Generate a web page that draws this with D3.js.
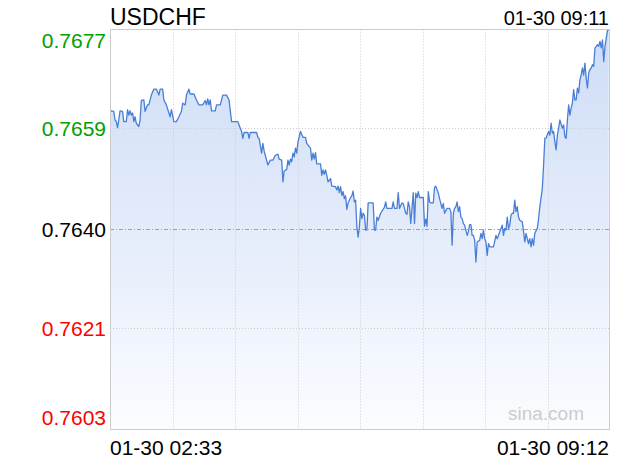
<!DOCTYPE html>
<html><head><meta charset="utf-8">
<script src="https://cdn.jsdelivr.net/npm/d3@7/dist/d3.min.js"></script>
<style>html,body{margin:0;padding:0;background:#fff;}svg{display:block;}</style>
</head><body>
<svg id="c" width="620" height="460"></svg>
<script>
const symbol = "USDCHF";
const lastTimeLabel = "01-30 09:11";
const xLabels = ["01-30 02:33", "01-30 09:12"];
const totalMinutes = 399;
const prevClose = 0.7640;
const yTicks = [0.76769, 0.76585, 0.76400, 0.76216, 0.76031];
const yTickLabels = ["0.7677", "0.7659", "0.7640", "0.7621", "0.7603"];
const yTickColors = ["#00a000", "#00a000", "#000000", "#ff0000", "#ff0000"];

// minute offsets from 02:33
const minutes = [0,1,3,4,5,6,7,8,10,11,13,14,15,16,17,18,19,20,21,23,24,25,27,28,30,31,33,35,37,39,40,42,43,45,47,48,49,51,53,55,57,58,60,61,63,64,67,69,71,74,76,77,78,79,80,81,84,85,88,90,93,95,97,102,103,105,106,107,110,111,112,117,118,119,121,122,123,126,128,130,132,134,135,137,138,139,141,142,143,144,145,146,147,148,149,150,151,152,154,156,157,159,160,161,162,163,164,165,168,169,170,171,172,173,174,176,177,180,181,182,183,184,185,186,187,188,189,190,192,193,194,195,196,197,198,199,200,201,202,203,204,205,206,210,211,212,213,214,216,217,219,220,221,225,226,227,229,230,231,233,234,235,236,237,238,239,240,242,243,244,245,246,247,250,251,252,253,254,255,256,258,259,260,262,263,265,266,267,269,271,272,273,274,275,276,277,278,279,280,281,282,283,285,286,287,288,289,290,291,292,293,295,296,297,298,299,300,301,302,303,306,307,308,309,310,312,313,314,315,316,317,318,319,320,321,322,323,324,325,326,327,329,330,331,332,333,334,335,336,337,338,339,341,342,343,345,346,347,348,350,351,352,353,354,355,356,357,358,359,361,362,363,364,365,366,367,368,369,370,371,372,373,374,375,376,377,378,379,380,381,382,383,384,385,386,387,388,389,390,391,392,393,394,395,396,397,398];
const prices = [0.76618,0.76619,0.76618,0.76602,0.76599,0.76588,0.76602,0.76619,0.76618,0.76599,0.76599,0.76621,0.76611,0.76619,0.76611,0.76615,0.76599,0.76608,0.76596,0.76590,0.76602,0.76638,0.76639,0.76618,0.76630,0.76630,0.76648,0.76659,0.76659,0.76648,0.76659,0.76659,0.76639,0.76630,0.76615,0.76608,0.76621,0.76599,0.76599,0.76608,0.76618,0.76633,0.76630,0.76648,0.76659,0.76650,0.76650,0.76639,0.76630,0.76630,0.76638,0.76630,0.76641,0.76630,0.76639,0.76619,0.76619,0.76630,0.76630,0.76648,0.76648,0.76639,0.76599,0.76599,0.76593,0.76581,0.76568,0.76579,0.76579,0.76568,0.76579,0.76579,0.76570,0.76568,0.76541,0.76559,0.76545,0.76519,0.76528,0.76528,0.76537,0.76539,0.76530,0.76528,0.76488,0.76508,0.76511,0.76528,0.76519,0.76530,0.76525,0.76541,0.76534,0.76550,0.76541,0.76562,0.76571,0.76581,0.76570,0.76570,0.76559,0.76553,0.76550,0.76528,0.76541,0.76530,0.76542,0.76521,0.76521,0.76500,0.76510,0.76502,0.76510,0.76500,0.76488,0.76494,0.76480,0.76479,0.76473,0.76480,0.76468,0.76479,0.76463,0.76470,0.76457,0.76462,0.76437,0.76449,0.76459,0.76462,0.76471,0.76451,0.76454,0.76405,0.76386,0.76405,0.76439,0.76420,0.76430,0.76426,0.76399,0.76399,0.76449,0.76449,0.76399,0.76399,0.76423,0.76417,0.76430,0.76434,0.76441,0.76451,0.76439,0.76439,0.76451,0.76439,0.76439,0.76468,0.76439,0.76449,0.76448,0.76439,0.76430,0.76428,0.76451,0.76442,0.76411,0.76468,0.76411,0.76467,0.76459,0.76470,0.76459,0.76459,0.76406,0.76419,0.76406,0.76470,0.76451,0.76449,0.76449,0.76478,0.76480,0.76467,0.76457,0.76439,0.76448,0.76430,0.76439,0.76439,0.76433,0.76371,0.76430,0.76439,0.76442,0.76451,0.76433,0.76442,0.76423,0.76420,0.76411,0.76408,0.76389,0.76396,0.76409,0.76409,0.76389,0.76389,0.76380,0.76340,0.76377,0.76380,0.76393,0.76383,0.76399,0.76383,0.76377,0.76352,0.76374,0.76368,0.76368,0.76378,0.76389,0.76383,0.76389,0.76402,0.76408,0.76389,0.76402,0.76399,0.76423,0.76402,0.76408,0.76426,0.76430,0.76430,0.76454,0.76433,0.76442,0.76423,0.76417,0.76414,0.76396,0.76377,0.76393,0.76383,0.76374,0.76383,0.76368,0.76383,0.76371,0.76393,0.76402,0.76420,0.76442,0.76476,0.76519,0.76568,0.76569,0.76581,0.76574,0.76596,0.76578,0.76581,0.76562,0.76547,0.76574,0.76587,0.76602,0.76587,0.76593,0.76571,0.76568,0.76602,0.76630,0.76611,0.76624,0.76633,0.76658,0.76639,0.76639,0.76661,0.76652,0.76676,0.76685,0.76698,0.76685,0.76707,0.76679,0.76661,0.76689,0.76695,0.76698,0.76704,0.76701,0.76735,0.76738,0.76741,0.76738,0.76747,0.76735,0.76750,0.76710,0.76738,0.76753,0.76767,0.76769];

const data = minutes.map((m, i) => ({ m, v: prices[i] }));

const svg = d3.select("#c");
const L = 110, R = 610, T = 29.5, B = 429.5;
const x = d3.scaleLinear().domain([0, totalMinutes]).range([L, R]);
const y = d3.scaleLinear().domain([yTicks[4], yTicks[0]]).range([B, T]);

const defs = svg.append("defs");
const grad = defs.append("linearGradient").attr("id", "g")
  .attr("gradientUnits", "userSpaceOnUse").attr("x1", 0).attr("x2", 0).attr("y1", T).attr("y2", B);
grad.append("stop").attr("offset", "0").attr("stop-color", "#cddcf6");
grad.append("stop").attr("offset", "1").attr("stop-color", "#fbfcff");

// area
svg.append("path").datum(data)
  .attr("fill", "url(#g)")
  .attr("d", d3.area().x(d => x(d.m)).y0(B).y1(d => y(d.v)));

// vertical grid
const vgrid = d3.range(1, 8).map(i => i * totalMinutes / 8);
svg.append("g").selectAll("line").data(vgrid).join("line")
  .attr("x1", d => Math.round(x(d)) + 0.5).attr("x2", d => Math.round(x(d)) + 0.5)
  .attr("y1", T).attr("y2", B)
  .attr("stroke", "#cccccc").attr("stroke-width", 1).attr("stroke-dasharray", "1,2");

// horizontal grid
svg.append("g").selectAll("line").data(yTicks.slice(1, 4)).join("line")
  .attr("x1", L).attr("x2", R)
  .attr("y1", d => Math.round(y(d)) - 0.5).attr("y2", d => Math.round(y(d)) - 0.5)
  .attr("stroke", d => d === prevClose ? "#a0a0a0" : "#cccccc")
  .attr("stroke-dasharray", d => d === prevClose ? "4,2,1,2" : "1,2");

// line
svg.append("path").datum(data)
  .attr("fill", "none").attr("stroke", "#4a7ed6").attr("stroke-width", 1.3)
  .attr("stroke-linejoin", "round")
  .attr("d", d3.line().x(d => x(d.m)).y(d => y(d.v)));

// border
svg.append("rect").attr("x", L + 0.5).attr("y", T).attr("width", R - L - 1).attr("height", B - T)
  .attr("fill", "none").attr("stroke", "#cccccc");

const font = "Liberation Sans, Arial, Helvetica, sans-serif";

// y labels
svg.append("g").selectAll("text").data(yTicks).join("text")
  .attr("x", 106)
  .attr("y", (d, i) => i === 0 ? y(d) + 18 : (i === 4 ? y(d) - 5 : y(d) + 7))
  .attr("text-anchor", "end")
  .attr("font-family", font).attr("font-size", 21)
  .attr("fill", (d, i) => yTickColors[i])
  .text((d, i) => yTickLabels[i]);

// title
svg.append("text").attr("x", 110).attr("y", 25).attr("font-family", font).attr("font-size", 23)
  .attr("fill", "#000").text(symbol);
svg.append("text").attr("x", 609).attr("y", 25).attr("text-anchor", "end").attr("font-family", font)
  .attr("font-size", 20).attr("fill", "#000").text(lastTimeLabel);

// x labels
svg.append("text").attr("x", 110).attr("y", 455).attr("font-family", font).attr("font-size", 21)
  .attr("fill", "#000").text(xLabels[0]);
svg.append("text").attr("x", 609).attr("y", 455).attr("text-anchor", "end").attr("font-family", font)
  .attr("font-size", 21).attr("fill", "#000").text(xLabels[1]);

// watermark
svg.append("text").attr("x", 546).attr("y", 420).attr("text-anchor", "middle").attr("font-family", font)
  .attr("font-size", 19).attr("fill", "#cccccc").text("sina.com");
</script>
</body></html>
